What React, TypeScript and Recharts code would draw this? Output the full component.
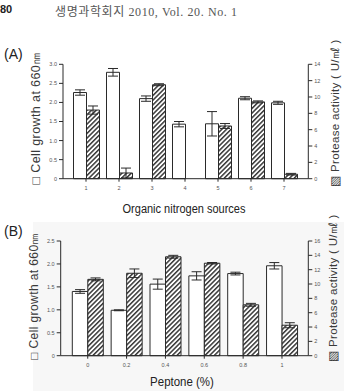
import React from 'react';
import { BarChart, Bar, XAxis, YAxis, ErrorBar } from 'recharts';

// Panel A: organic nitrogen sources 1–7
const sourcesA = ['1', '2', '3', '4', '5', '6', '7'];
const cellGrowthA = [2.26, 2.79, 2.1, 1.43, 1.44, 2.11, 1.99];
const cellGrowthErrA = [0.07, 0.1, 0.07, 0.07, 0.32, 0.04, 0.04];
const proteaseA = [8.4, 0.7, 11.5, 0, 6.45, 9.4, 0.55];
const proteaseErrA = [0.5, 0.6, 0.12, 0, 0.3, 0.12, 0.1];

// Panel B: peptone concentration (%)
const peptoneB = ['0', '0.2', '0.4', '0.6', '0.8', '1'];
const cellGrowthB = [1.4, 0.99, 1.56, 1.74, 1.79, 1.96];
const cellGrowthErrB = [0.04, 0.01, 0.11, 0.09, 0.03, 0.07];
const proteaseB = [10.65, 11.5, 13.8, 12.9, 7.1, 4.25];
const proteaseErrB = [0.2, 0.6, 0.2, 0.1, 0.2, 0.35];

const leftTicksA = [0, 0.5, 1, 1.5, 2, 2.5, 3];
const rightTicksA = [0, 2, 4, 6, 8, 10, 12, 14];
const leftTicksB = [0, 0.5, 1, 1.5, 2, 2.5];
const rightTicksB = [0, 2, 4, 6, 8, 10, 12, 14, 16];

const dataA = sourcesA.map((name, i) => ({
  name,
  growth: cellGrowthA[i],
  growthErr: cellGrowthErrA[i],
  protease: proteaseA[i],
  proteaseErr: proteaseErrA[i],
}));

const dataB = peptoneB.map((name, i) => ({
  name,
  growth: cellGrowthB[i],
  growthErr: cellGrowthErrB[i],
  protease: proteaseB[i],
  proteaseErr: proteaseErrB[i],
}));

const INK = '#2a2a2a';
const tickStyle = { fontSize: 5.5, fill: '#555', fontFamily: 'Liberation Sans, Arial, sans-serif' };
const fmtLeft = (v: number) => (v === 0 ? '0' : v.toFixed(1));

const abs = (x: number, y: number): React.CSSProperties => ({
  position: 'absolute',
  left: x,
  top: y,
  whiteSpace: 'nowrap',
});

const rotated = (cx: number, cy: number, size: number, spacing: number): React.CSSProperties => ({
  position: 'absolute',
  left: cx,
  top: cy,
  transform: 'translate(-50%, -50%) rotate(-90deg)',
  whiteSpace: 'nowrap',
  fontFamily: 'Liberation Sans, Arial, sans-serif',
  fontSize: size,
  letterSpacing: spacing,
  color: '#3a3a3a',
  lineHeight: 1,
});

export default function App() {
  return (
    <div style={{ position: 'absolute', left: 0, top: 0, width: 344, height: 391, background: '#fff', overflow: 'hidden' }}>
      <svg width={0} height={0} style={{ position: 'absolute' }}>
        <defs>
          <pattern id="hatch" patternUnits="userSpaceOnUse" width={3.3} height={3.3} patternTransform="rotate(45)">
            <rect width={3.3} height={3.3} fill="#fff" />
            <rect width={1.5} height={3.3} fill="#383838" />
          </pattern>
        </defs>
      </svg>

      {/* faint shading of the lower figure block */}
      <div style={{ position: 'absolute', left: 33, top: 222, width: 311, height: 169, background: '#f7f7f7' }} />

      {/* running header */}
      <div style={{ ...abs(0, 3), fontFamily: 'Liberation Sans, Arial, sans-serif', fontWeight: 'bold', fontSize: 11, color: '#222' }}>80</div>
      <div style={{ ...abs(55, 2), fontFamily: '"Liberation Serif", "Noto Sans CJK KR", serif', fontSize: 12, color: '#555', letterSpacing: 0.6 }}>
        생명과학회지 2010, Vol. 20. No. 1
      </div>

      {/* panel letters */}
      <div style={{ ...abs(4, 46), fontFamily: 'Liberation Sans, Arial, sans-serif', fontSize: 14, color: '#222' }}>(A)</div>
      <div style={{ ...abs(4, 223), fontFamily: 'Liberation Sans, Arial, sans-serif', fontSize: 14, color: '#222' }}>(B)</div>

      {/* Panel A */}
      <div style={{ position: 'absolute', left: 0, top: 0 }}>
        <BarChart
          width={344}
          height={200}
          data={dataA}
          margin={{ top: 64.3, right: 0, bottom: 1.3, left: 0 }}
          barGap={0}
          barSize={13}
        >
          <XAxis
            dataKey="name"
            height={20}
            padding={{ left: 6.5, right: 7.8 }}
            tick={tickStyle}
            tickSize={3}
            tickMargin={4}
            axisLine={{ stroke: INK }}
            tickLine={{ stroke: INK }}
          />
          <YAxis
            yAxisId="left"
            width={63}
            domain={[0, 3]}
            ticks={leftTicksA}
            tickFormatter={fmtLeft}
            tick={tickStyle}
            tickSize={4}
            tickMargin={2}
            axisLine={{ stroke: INK }}
            tickLine={{ stroke: INK }}
          />
          <YAxis
            yAxisId="right"
            orientation="right"
            width={35.7}
            domain={[0, 14]}
            ticks={rightTicksA}
            tick={tickStyle}
            tickSize={4}
            tickMargin={2}
            axisLine={{ stroke: INK }}
            tickLine={{ stroke: INK }}
          />
          <Bar yAxisId="left" dataKey="growth" fill="#fff" stroke={INK} strokeWidth={1} isAnimationActive={false}>
            <ErrorBar dataKey="growthErr" width={5} stroke={INK} strokeWidth={1} />
          </Bar>
          <Bar yAxisId="right" dataKey="protease" fill="url(#hatch)" stroke={INK} strokeWidth={1} isAnimationActive={false}>
            <ErrorBar dataKey="proteaseErr" width={5} stroke={INK} strokeWidth={1} />
          </Bar>
        </BarChart>
      </div>

      <div style={rotated(36, 117.5, 12.5, 0.4)}>□ Cell growth at 660㎚</div>
      <div style={rotated(336, 113, 11.5, 0.3)}>▧ Protease activity ( U/㎖ )</div>
      <div style={{ position: 'absolute', left: 183.5, top: 209, transform: 'translate(-50%, -50%) scaleX(0.88)', whiteSpace: 'nowrap', fontFamily: 'Liberation Sans, Arial, sans-serif', fontSize: 12.5, color: '#222' }}>
        Organic nitrogen sources
      </div>

      {/* Panel B */}
      <div style={{ position: 'absolute', left: 0, top: 200 }}>
        <BarChart
          width={344}
          height={180}
          data={dataB}
          margin={{ top: 41, right: 0, bottom: 4.3, left: 0 }}
          barGap={0}
          barSize={15.5}
        >
          <XAxis
            dataKey="name"
            height={20}
            padding={{ left: 7.6, right: 6.9 }}
            tick={tickStyle}
            tickSize={3}
            tickMargin={4}
            axisLine={{ stroke: INK }}
            tickLine={{ stroke: INK }}
          />
          <YAxis
            yAxisId="left"
            width={60.7}
            domain={[0, 2.5]}
            ticks={leftTicksB}
            tickFormatter={fmtLeft}
            tick={tickStyle}
            tickSize={4}
            tickMargin={2}
            axisLine={{ stroke: INK }}
            tickLine={{ stroke: INK }}
          />
          <YAxis
            yAxisId="right"
            orientation="right"
            width={35.7}
            domain={[0, 16]}
            ticks={rightTicksB}
            tick={tickStyle}
            tickSize={4}
            tickMargin={2}
            axisLine={{ stroke: INK }}
            tickLine={{ stroke: INK }}
          />
          <Bar yAxisId="left" dataKey="growth" fill="#fff" stroke={INK} strokeWidth={1} isAnimationActive={false}>
            <ErrorBar dataKey="growthErr" width={5} stroke={INK} strokeWidth={1} />
          </Bar>
          <Bar yAxisId="right" dataKey="protease" fill="url(#hatch)" stroke={INK} strokeWidth={1} isAnimationActive={false}>
            <ErrorBar dataKey="proteaseErr" width={5} stroke={INK} strokeWidth={1} />
          </Bar>
        </BarChart>
      </div>

      <div style={rotated(34, 295.5, 12, 0.4)}>□ Cell growth at 660㎚</div>
      <div style={rotated(334, 288, 11.5, 0.3)}>▧ Protease activity ( U/㎖ )</div>
      <div style={{ position: 'absolute', left: 182, top: 382, transform: 'translate(-50%, -50%) scaleX(0.85)', whiteSpace: 'nowrap', fontFamily: 'Liberation Sans, Arial, sans-serif', fontSize: 13.5, lineHeight: 1, color: '#222' }}>
        Peptone (%)
      </div>
    </div>
  );
}
